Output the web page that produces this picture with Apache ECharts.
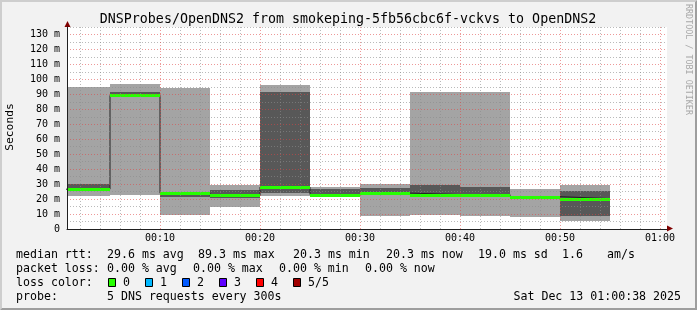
<!DOCTYPE html>
<html><head><meta charset="utf-8">
<script src="https://cdn.jsdelivr.net/npm/echarts@6/dist/echarts.min.js"></script>
<style>html,body{margin:0;padding:0;background:#f2f2f2}#c{width:697px;height:310px}</style>
</head><body><div id="c"></div>
<script>
// ---------- data ----------
const chartTitle = 'DNSProbes/OpenDNS2 from smokeping-5fb56cbc6f-vckvs to OpenDNS2';
const yAxisTitle = 'Seconds';
const watermark = 'RRDTOOL / TOBI OETIKER';
const windowStart = '00:00:42';
const windowEnd = '01:00:42';
const intervalStart = ['00:00','00:05','00:10','00:15','00:20','00:25','00:30','00:35','00:40','00:45','00:50'];
const intervalEnd   = ['00:05','00:10','00:15','00:20','00:25','00:30','00:35','00:40','00:45','00:50','00:55'];
const ping1  = [22.0, 22.9,  9.5, 14.6, 21.8, 21.5,  8.6,  9.5,  9.0,  7.9,  5.2];
const ping2  = [26.0, 89.0, 21.3, 20.6, 24.0, 22.0, 23.5, 22.7, 22.8, 20.5,  8.6];
const medianRtt = [26.6, 89.3, 23.9, 22.4, 28.0, 23.0, 24.0, 23.0, 23.0, 21.6, 20.3];
const ping4  = [29.8, 91.3, 24.5, 25.8, 91.3, 27.0, 27.3, 29.3, 28.4, 22.1, 25.1];
const ping5  = [95.0, 96.7, 94.0, 29.1, 96.0, 27.8, 29.8, 91.4, 91.4, 26.9, 29.1];
const lossCount = [0,0,0,0,0,0,0,0,0,0,0];
const yMin = 0, yMax = 135, yStep = 5, yLabelStep = 10;
const xLabelTimes = ['00:10','00:20','00:30','00:40','00:50','01:00'];
const xMinorTimes = ['00:02','00:04','00:06','00:08','00:12','00:14','00:16','00:18',
  '00:22','00:24','00:26','00:28','00:32','00:34','00:36','00:38',
  '00:42','00:44','00:46','00:48','00:52','00:54','00:56','00:58'];
const medianLabel = 'median rtt:';
const medianStats = ['29.6 ms avg','89.3 ms max','20.3 ms min','20.3 ms now','19.0 ms sd','1.6','am/s'];
const lossLabel = 'packet loss:';
const lossStats = ['0.00 % avg','0.00 % max','0.00 % min','0.00 % now'];
const lossColorLabel = 'loss color:';
const lossLegend = ['0','1','2','3','4','5/5'];
const lossColors = ['#26ff00','#00b8ff','#0059ff','#5e00ff','#ff0000','#a00000'];
const probeLabel = 'probe:';
const probeText = '5 DNS requests every 300s';
const dateText = 'Sat Dec 13 01:00:38 2025';

// ---------- helpers ----------
function toMin(t){const p=t.split(':').map(Number);return p[0]*60+p[1]+(p[2]||0)/60;}
function fmtMin(v){const r=Math.round(v);const h=Math.floor(r/60),m=r%60;return String(h).padStart(2,'0')+':'+String(m).padStart(2,'0');}
const FONT='"DejaVu Sans Mono", monospace';
const smokeOuter = intervalStart.map((s,i)=>[toMin(s),toMin(intervalEnd[i]),ping1[i],ping5[i]]);
const smokeInner = intervalStart.map((s,i)=>[toMin(s),toMin(intervalEnd[i]),ping2[i],ping4[i]]);
const medianSeg = intervalStart.map((s,i)=>[toMin(s),toMin(intervalEnd[i]),medianRtt[i],lossCount[i]]);
const medianStep = [];
intervalStart.forEach((s,i)=>{medianStep.push([toMin(s),medianRtt[i]]);medianStep.push([toMin(intervalEnd[i]),medianRtt[i]]);});

function smokeRender(color){
  return function(params, api){
    const a = api.coord([api.value(0), api.value(3)]);
    const b = api.coord([api.value(1), api.value(2)]);
    const x0=Math.round(a[0]), x1=Math.round(b[0]), y0=Math.round(a[1]), y1=Math.round(b[1]);
    return {type:'rect', shape:{x:x0,y:y0,width:x1-x0,height:y1-y0}, style:{fill:color}};
  };
}

const chart = echarts.init(document.getElementById('c'), null, {renderer:'canvas'});
const GRID_MINOR='rgba(140,140,140,0.6)', GRID_MAJOR='rgba(222,70,70,0.55)';
const xMin = toMin(windowStart), xMax = toMin(windowEnd);
const option = {
  animation:false,
  backgroundColor:'#f2f2f2',
  grid:{left:67,right:30,top:27,bottom:81,show:true,backgroundColor:'#ffffff',borderWidth:0},
  xAxis:[
    {type:'value',min:xMin,max:xMax,z:5,
      axisLine:{show:true,onZero:false,lineStyle:{color:'#1f1f1f',width:1}},
      axisTick:{show:false,customValues:xMinorTimes.map(toMin)},
      axisLabel:{customValues:xLabelTimes.map(toMin),formatter:fmtMin,margin:4,color:'#000',fontSize:10,fontFamily:FONT},
      splitLine:{show:true,lineStyle:{type:[1,2],width:1,color:GRID_MINOR}}
    },
    {type:'value',min:xMin,max:xMax,z:5,position:'bottom',
      axisLine:{show:false},
      axisTick:{show:false,customValues:xLabelTimes.map(toMin)},
      axisLabel:{show:false},
      splitLine:{show:true,lineStyle:{type:[1,2],width:1,color:GRID_MAJOR}}
    }
  ],
  yAxis:{type:'value',min:yMin,max:yMax,interval:yStep,z:5,
    axisLine:{show:true,lineStyle:{color:'#1f1f1f',width:1}},
    axisTick:{show:false},
    axisLabel:{margin:7,color:'#000',fontSize:10,fontFamily:FONT,
      formatter:v=> (v%yLabelStep===0 ? (v===0?'0':v+' m') : '')},
    splitLine:{show:true,showMinLine:false,lineStyle:{type:[1,2],width:1,color:[GRID_MINOR,GRID_MAJOR]}}
  },
  series:[
    {type:'custom',name:'smoke outer',data:smokeOuter,clip:true,z:2,encode:{x:[0,1],y:[2,3]},renderItem:smokeRender('#a4a4a4'),silent:true},
    {type:'custom',name:'smoke inner',data:smokeInner,clip:true,z:2,encode:{x:[0,1],y:[2,3]},renderItem:smokeRender('#585858'),silent:true},
    {type:'line',name:'median',data:medianStep,clip:true,z:3,symbol:'none',lineStyle:{color:'#202020',width:1},silent:true},
    {type:'custom',name:'median loss',data:medianSeg,clip:true,z:4,encode:{x:[0,1],y:2},silent:true,
      renderItem:function(params,api){
        const a=api.coord([api.value(0),api.value(2)]), b=api.coord([api.value(1),api.value(2)]);
        const y=Math.round(a[1])+0.5;
        return {type:'line',shape:{x1:Math.round(a[0]),y1:y,x2:Math.round(b[0]),y2:y},style:{stroke:lossColors[api.value(3)],lineWidth:3}};
      }}
  ]
};
chart.setOption(option);

// ---------- decorations (text, legend, frame) ----------
const W=697,H=310;
const g=[];
g.push({type:'polygon',shape:{points:[[0,0],[W,0],[W-2,2],[2,2],[2,H-2],[0,H]]},style:{fill:'#cecece'},silent:true});
g.push({type:'polygon',shape:{points:[[W,0],[W,H],[0,H],[2,H-2],[W-2,H-2],[W-2,2]]},style:{fill:'#9e9e9e'},silent:true});
g.push({type:'text',x:348,y:19.5,style:{text:chartTitle,fill:'#000',fontSize:13.3,fontFamily:FONT,align:'center',verticalAlign:'middle'},silent:true});
g.push({type:'text',x:10.5,y:127,rotation:Math.PI/2,style:{text:yAxisTitle,fill:'#000',fontSize:11.3,fontFamily:FONT,align:'center',verticalAlign:'middle'},silent:true});
g.push({type:'text',x:688,y:4,rotation:-Math.PI/2,style:{text:watermark,fill:'#a8a8a8',fontSize:8.4,fontFamily:FONT,align:'left',verticalAlign:'middle'},silent:true});
const origin=chart.convertToPixel({gridIndex:0},[xMin,yMin]);
const topRight=chart.convertToPixel({gridIndex:0},[xMax,yMax]);
const ax=Math.round(origin[0])+0.5, ay=Math.round(origin[1])-0.5;
const tx=Math.round(topRight[0]), ty=Math.round(topRight[1]);
g.push({type:'polygon',shape:{points:[[ax-3,ty],[ax+3,ty],[ax,ty-6]]},style:{fill:'#800000'},silent:true});
g.push({type:'polygon',shape:{points:[[tx,ay-3],[tx,ay+3],[tx+6,ay]]},style:{fill:'#800000'},silent:true});
const LF=11.6;
function txt(t,x,y,extra){g.push({type:'text',x:x,y:y,style:Object.assign({text:t,fill:'#000',fontSize:LF,fontFamily:FONT,align:'left',verticalAlign:'middle'},extra||{}),silent:true});}
const rowY=[254.5,268.5,282.5,296.5];
txt(medianLabel,16,rowY[0]);
const medX=[107,198,293,386,478,562,607];
medianStats.forEach((t,i)=>txt(t,medX[i],rowY[0]));
txt(lossLabel,16,rowY[1]);
const lossX=[107,193,279,365];
lossStats.forEach((t,i)=>txt(t,lossX[i],rowY[1]));
txt(lossColorLabel,16,rowY[2]);
const boxX=[108.5,145.5,182.5,219.5,256.5,293.5];
lossLegend.forEach((t,i)=>{
  g.push({type:'rect',shape:{x:boxX[i],y:278.5,width:7,height:8},style:{fill:lossColors[i],stroke:'#000',lineWidth:1},silent:true});
  txt(t,boxX[i]+14.5,rowY[2]);
});
txt(probeLabel,16,rowY[3]);
txt(probeText,107,rowY[3]);
txt(dateText,681,rowY[3],{align:'right'});
chart.setOption({graphic:{elements:g}});
</script>
</body></html>
